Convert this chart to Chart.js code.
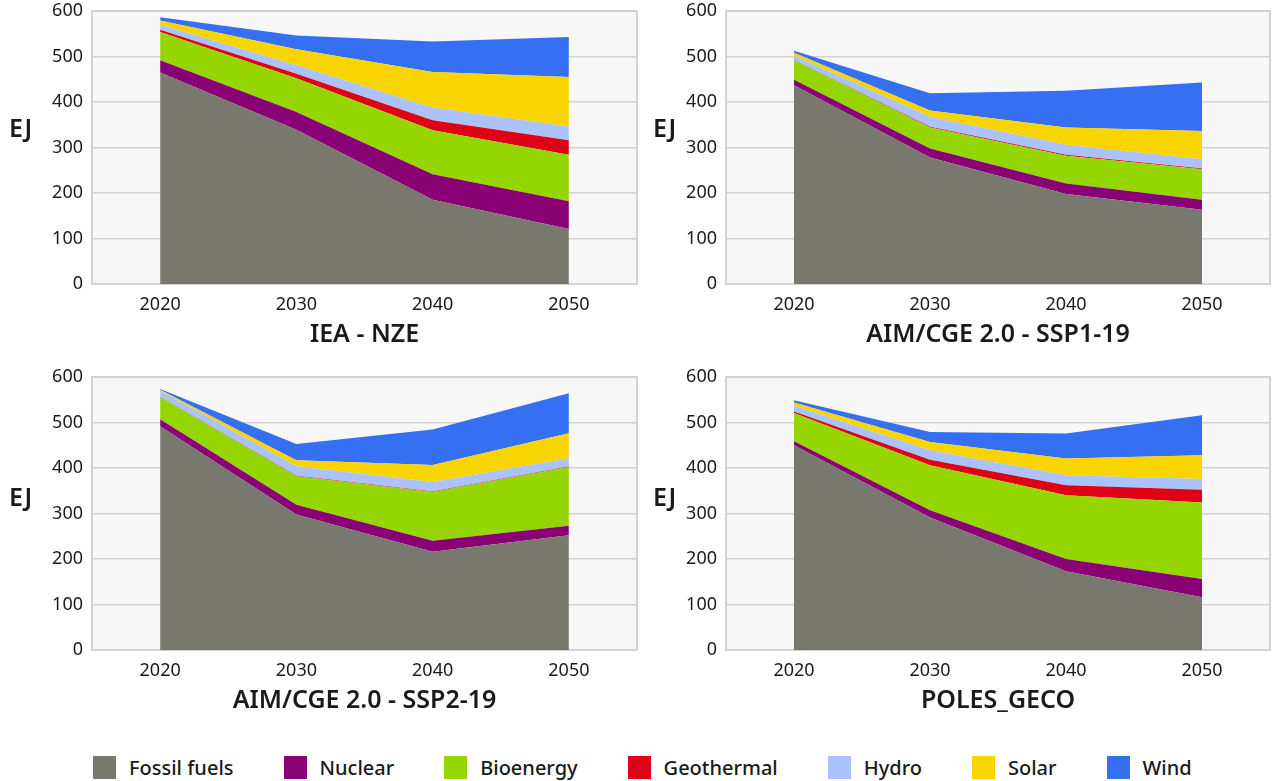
<!DOCTYPE html>
<html>
<head>
<meta charset="utf-8">
<script src="https://cdn.jsdelivr.net/npm/chart.js@4.4.1/dist/chart.umd.min.js"></script>
<style>
  html, body { margin:0; padding:0; background:#ffffff; }
  body { width:1272px; height:781px; position:relative; overflow:hidden; font-family:"Noto Sans", sans-serif; color:#1a1a1a; }
  canvas { position:absolute; }
  .ej { position:absolute; font-family:"Noto Sans", sans-serif; font-weight:600; font-size:25px; line-height:25px; color:#1a1a1a; }
  #legend { position:absolute; left:93px; top:754px; display:flex; align-items:center; }
  .item { display:flex; align-items:center; margin-right:50px; }
  .sw { width:23px; height:23px; margin-right:13px; }
  .lbl { font-family:"Noto Sans", sans-serif; font-weight:500; font-size:20px; color:#1a1a1a; white-space:nowrap; }
</style>
</head>
<body>
<canvas id="c1" width="640" height="350" style="left:0px;top:0px;"></canvas>
<canvas id="c2" width="632" height="350" style="left:640px;top:0px;"></canvas>
<canvas id="c3" width="640" height="350" style="left:0px;top:366px;"></canvas>
<canvas id="c4" width="632" height="350" style="left:640px;top:366px;"></canvas>
<div class="ej" style="left:9px;top:115px;">EJ</div>
<div class="ej" style="left:653px;top:115px;">EJ</div>
<div class="ej" style="left:9px;top:484px;">EJ</div>
<div class="ej" style="left:653px;top:484px;">EJ</div>
<div id="legend"></div>
<script>
// ---- categories & labels ----
const years = ['2020', '2030', '2040', '2050'];
const yTicks = [0, 100, 200, 300, 400, 500, 600];
const seriesNames = ['Fossil fuels', 'Nuclear', 'Bioenergy', 'Geothermal', 'Hydro', 'Solar', 'Wind'];
const scenarioTitles = ['IEA - NZE', 'AIM/CGE 2.0 - SSP1-19', 'AIM/CGE 2.0 - SSP2-19', 'POLES_GECO'];

// ---- IEA - NZE (EJ) ----
const ieaFossil     = [465, 339, 185, 121];
const ieaNuclear    = [27, 39, 56, 61];
const ieaBio        = [62, 74, 97, 102];
const ieaGeo        = [5, 10, 22, 32];
const ieaHydro      = [11, 19, 28, 30];
const ieaSolar      = [9, 35, 78, 109];
const ieaWind       = [7, 30, 67, 88];

// ---- AIM/CGE 2.0 - SSP1-19 (EJ) ----
const ssp1Fossil    = [437, 278, 198, 163];
const ssp1Nuclear   = [12, 20, 23, 22];
const ssp1Bio       = [43, 46, 61, 67];
const ssp1Geo       = [0.5, 1.5, 2, 2];
const ssp1Hydro     = [9, 22, 22, 20];
const ssp1Solar     = [7, 14, 38, 62];
const ssp1Wind      = [4, 38, 81, 107];

// ---- AIM/CGE 2.0 - SSP2-19 (EJ) ----
const ssp2Fossil    = [492, 298, 216, 252];
const ssp2Nuclear   = [15, 21, 24, 21];
const ssp2Bio       = [49, 63, 107, 129];
const ssp2Geo       = [0.5, 1, 1.5, 1.5];
const ssp2Hydro     = [14, 21, 21, 18];
const ssp2Solar     = [1.5, 13, 37, 55];
const ssp2Wind      = [1.5, 36, 78, 88];

// ---- POLES_GECO (EJ) ----
const polesFossil   = [450, 291, 173, 116];
const polesNuclear  = [9, 16, 27, 40];
const polesBio      = [62, 99, 140, 168];
const polesGeo      = [3, 12, 22, 28];
const polesHydro    = [13, 21, 22, 24];
const polesSolar    = [7, 18, 37, 52];
const polesWind     = [5, 22, 55, 88];

// ---- styles ----
const seriesColors = ['#79786f', '#8a0075', '#95d600', '#e00016', '#abc3fa', '#f8d500', '#356ff2'];
const textColor = '#1a1a1a';
const fontFam = '"Noto Sans", sans-serif';

const scenarioData = [
  [ieaFossil, ieaNuclear, ieaBio, ieaGeo, ieaHydro, ieaSolar, ieaWind],
  [ssp1Fossil, ssp1Nuclear, ssp1Bio, ssp1Geo, ssp1Hydro, ssp1Solar, ssp1Wind],
  [ssp2Fossil, ssp2Nuclear, ssp2Bio, ssp2Geo, ssp2Hydro, ssp2Solar, ssp2Wind],
  [polesFossil, polesNuclear, polesBio, polesGeo, polesHydro, polesSolar, polesWind]
];

const plotFrame = {
  id: 'plotFrame',
  beforeDraw(chart) {
    const { ctx, chartArea: a } = chart;
    ctx.save();
    ctx.fillStyle = '#f7f7f7';
    ctx.fillRect(a.left, a.top, a.right - a.left, a.bottom - a.top);
    ctx.restore();
  },
  beforeDatasetsDraw(chart) {
    const { ctx, chartArea: a } = chart;
    ctx.save();
    ctx.strokeStyle = '#d2d2d2';
    ctx.lineWidth = 2;
    ctx.strokeRect(a.left, a.top, a.right - a.left, a.bottom - a.top);
    ctx.restore();
  }
};

function makeChart(id, idx, yWidth, padRight) {
  const datasets = scenarioData[idx].map((vals, i) => ({
    label: seriesNames[i],
    data: vals,
    backgroundColor: seriesColors[i],
    borderColor: seriesColors[i],
    borderWidth: 0,
    pointRadius: 0,
    pointHoverRadius: 0,
    tension: 0,
    fill: i === 0 ? 'origin' : '-1'
  }));
  return new Chart(document.getElementById(id), {
    type: 'line',
    data: { labels: years, datasets },
    plugins: [plotFrame],
    options: {
      responsive: false,
      devicePixelRatio: 1,
      animation: false,
      layout: { padding: { top: 11, right: padRight, bottom: 0, left: 0 } },
      plugins: { legend: { display: false }, tooltip: { enabled: false } },
      scales: {
        x: {
          type: 'category',
          offset: true,
          grid: { display: false },
          border: { display: false },
          ticks: { color: textColor, font: { family: fontFam, size: 18 }, padding: 2, maxRotation: 0 },
          title: { display: true, text: scenarioTitles[idx], color: textColor,
                   font: { family: fontFam, size: 25, weight: '600' }, padding: { top: 0, bottom: 0 } },
          afterFit(s) { s.height = 66; s.paddingLeft = 0; s.paddingRight = 0; }
        },
        y: {
          stacked: true,
          min: 0,
          max: 600,
          afterBuildTicks(s) { s.ticks = yTicks.map(v => ({ value: v })); },
          grid: { color: '#d2d2d2', lineWidth: 1.5, drawTicks: false },
          border: { display: false },
          ticks: { color: textColor, font: { family: fontFam, size: 18 }, padding: 9 },
          afterFit(s) { s.width = yWidth; s.paddingTop = 0; s.paddingBottom = 0; }
        }
      }
    }
  });
}

makeChart('c1', 0, 92, 3);
makeChart('c2', 1, 86, 2);
makeChart('c3', 2, 92, 3);
makeChart('c4', 3, 86, 2);

// HTML legend built from series names/colours
const legend = document.getElementById('legend');
seriesNames.forEach((n, i) => {
  const it = document.createElement('div');
  it.className = 'item';
  const sw = document.createElement('div');
  sw.className = 'sw';
  sw.style.background = seriesColors[i];
  const lb = document.createElement('span');
  lb.className = 'lbl';
  lb.textContent = n;
  it.appendChild(sw);
  it.appendChild(lb);
  legend.appendChild(it);
});
</script>
</body>
</html>
